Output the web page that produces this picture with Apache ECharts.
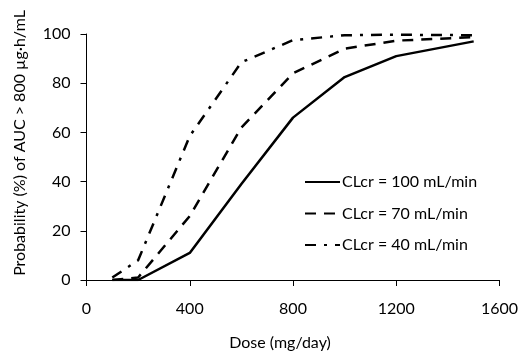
<!DOCTYPE html>
<html>
<head>
<meta charset="utf-8">
<script src="https://cdn.jsdelivr.net/npm/echarts@6/dist/echarts.min.js"></script>
<style>
  html, body { margin: 0; padding: 0; background: #fff; }
  #main { width: 523px; height: 356px; }
</style>
</head>
<body>
<div id="main"></div>
<script>
// Doses (mg/day) and probability (%) for each CLcr group
const doses = [100, 200, 400, 600, 800, 1000, 1200, 1500];
const clcr100 = [0, 0, 11, 39, 66, 82.5, 91, 97];
const clcr70 = [0, 1, 26, 62, 84, 94, 97.3, 98.7];
const clcr40 = [1, 8, 58.5, 88.5, 97.5, 99.5, 99.7, 99.5];
const seriesNames = ["CLcr = 100 mL/min", "CLcr = 70 mL/min", "CLcr = 40 mL/min"];
const xTicks = [0, 400, 800, 1200, 1600];
const yTicks = [0, 20, 40, 60, 80, 100];

const font = "Lato";
const pair = (vals) => doses.map((d, i) => [d, vals[i]]);

const chart = echarts.init(document.getElementById("main"));
const option = {
  animation: false,
  textStyle: { fontFamily: font },
  grid: { left: 86.5, right: 23.5, top: 34, bottom: 74 },
  legend: {
    orient: "vertical",
    left: 299,
    top: 169,
    itemWidth: 35,
    itemHeight: 14,
    itemGap: 15.5,
    itemStyle: { opacity: 0 },
    textStyle: { fontFamily: font, fontSize: 16, color: "#000", padding: [0, 0, 0, -3] },
    data: seriesNames,
  },
  xAxis: {
    type: "value",
    min: 0,
    max: 1600,
    interval: 400,
    name: "Dose (mg/day)",
    nameLocation: "middle",
    nameGap: 55,
    nameTextStyle: { fontFamily: font, fontSize: 16, color: "#000", padding: [0, 26, 0, 0] },
    axisLine: { lineStyle: { color: "#000", width: 1 } },
    axisTick: { show: true, length: 6, lineStyle: { color: "#000" } },
    axisLabel: {
      fontFamily: font, fontSize: 16, color: "#000", margin: 21,
      customValues: xTicks,
      formatter: (v) => String(v),
    },
    splitLine: { show: false },
  },
  yAxis: {
    type: "value",
    min: 0,
    max: 100,
    interval: 20,
    name: "Probability (%) of AUC > 800 \u00b5g\u2219h/mL",
    nameLocation: "middle",
    nameGap: 59,
    nameTextStyle: { fontFamily: font, fontSize: 16, color: "#000", padding: [0, 0, 0, 28] },
    axisLine: { show: true, lineStyle: { color: "#000", width: 1 } },
    axisTick: { show: true, length: 6, lineStyle: { color: "#000" } },
    axisLabel: {
      fontFamily: font, fontSize: 16, color: "#000", margin: 16,
      customValues: yTicks,
    },
    splitLine: { show: false },
  },
  series: [
    {
      name: seriesNames[0],
      type: "line",
      symbol: "none",
      data: pair(clcr100),
      lineStyle: { color: "#000", width: 2.5, type: "solid" },
      itemStyle: { color: "#000" },
    },
    {
      name: seriesNames[1],
      type: "line",
      symbol: "none",
      data: pair(clcr70),
      lineStyle: { color: "#000", width: 2.5, type: [11, 8] },
      itemStyle: { color: "#000" },
    },
    {
      name: seriesNames[2],
      type: "line",
      symbol: "none",
      data: pair(clcr40),
      lineStyle: { color: "#000", width: 2.5, type: [11, 8, 3, 8] },
      itemStyle: { color: "#000" },
    },
  ],
};
chart.setOption(option);
window.addEventListener("resize", () => chart.resize());
</script>
</body>
</html>
